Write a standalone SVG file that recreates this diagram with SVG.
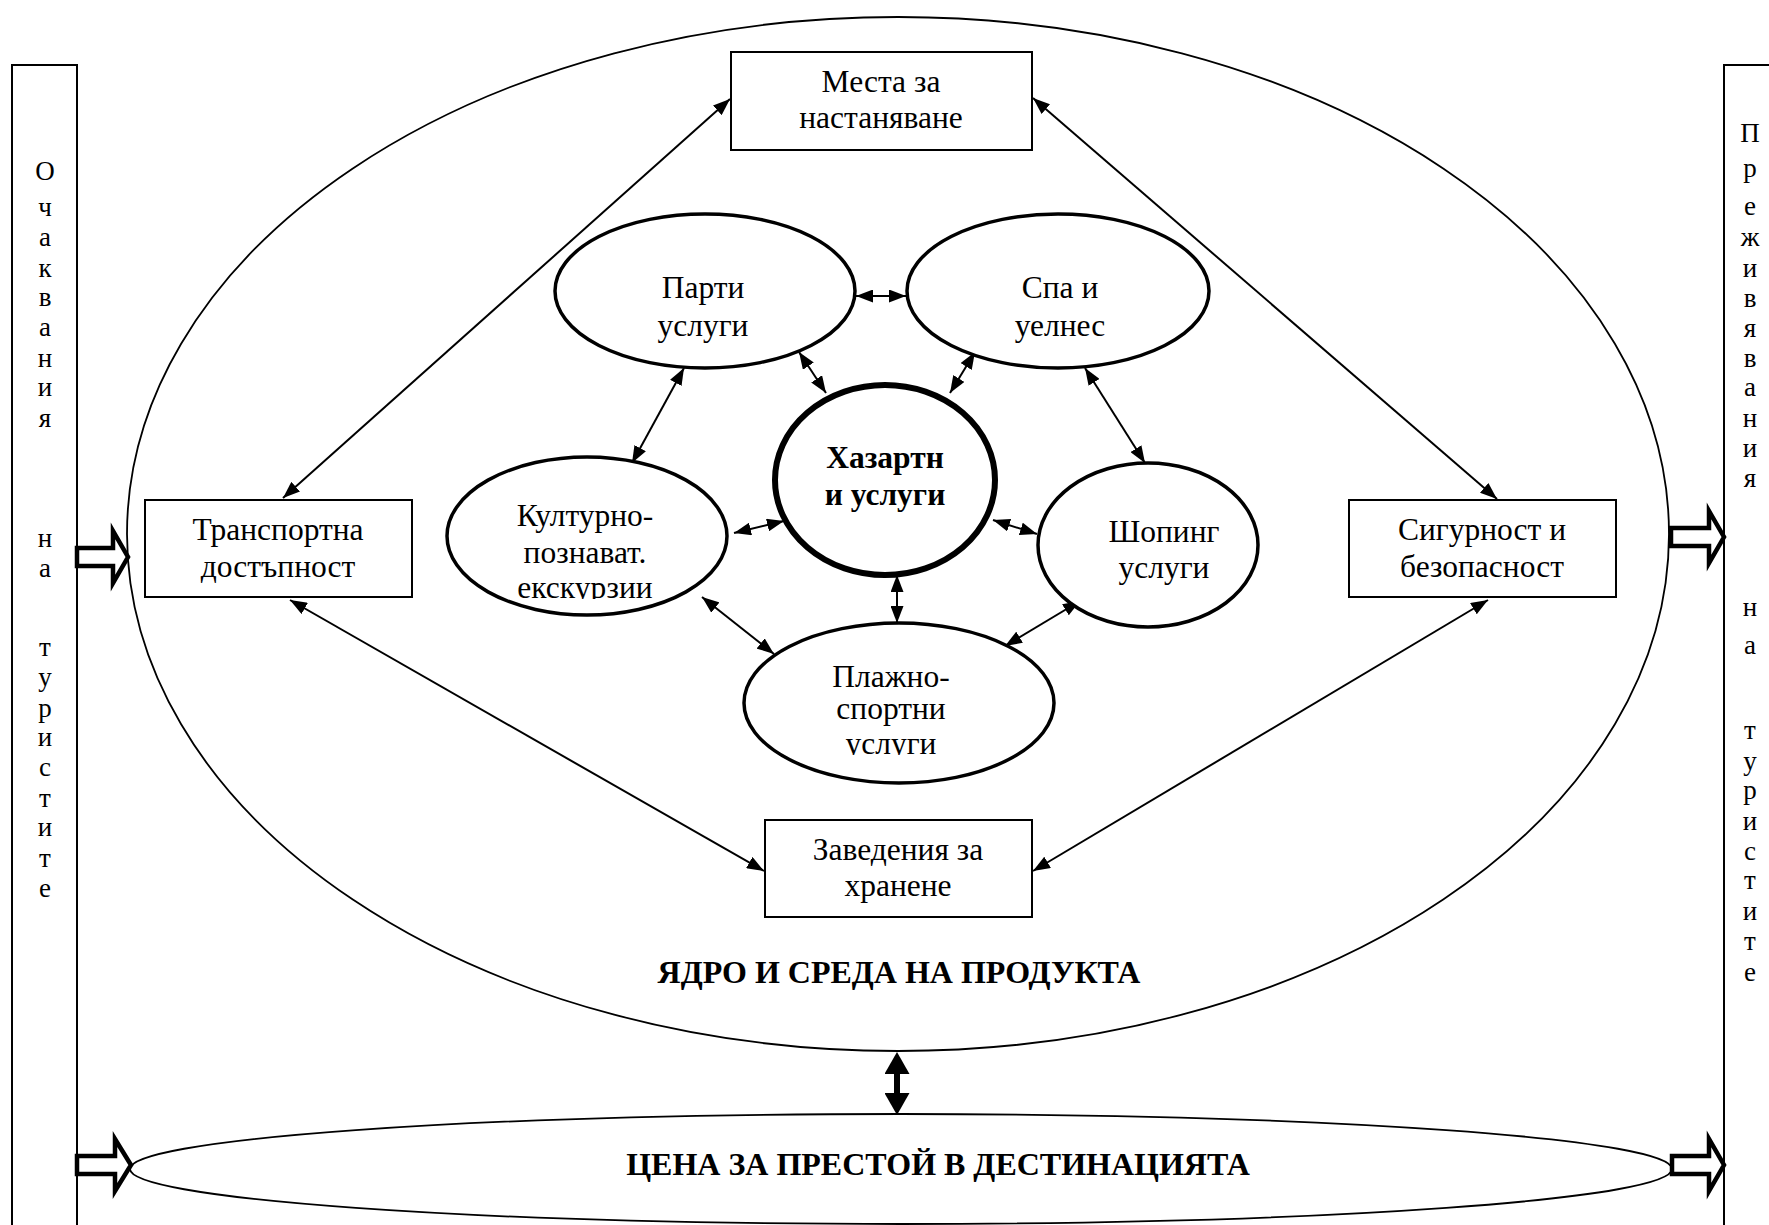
<svg xmlns="http://www.w3.org/2000/svg" width="1769" height="1225" viewBox="0 0 1769 1225">
<defs>
<marker id="ah" viewBox="0 0 17 13" refX="17" refY="6.5" markerWidth="17" markerHeight="13" markerUnits="userSpaceOnUse" orient="auto-start-reverse"><path d="M0,0 L17,6.5 L0,13 z" fill="#000"/></marker>
<marker id="ahb" viewBox="0 0 22 25" refX="9" refY="12.5" markerWidth="22" markerHeight="25" markerUnits="userSpaceOnUse" orient="auto-start-reverse"><path d="M0,0 L22,12.5 L0,25 z" fill="#000"/></marker>
<clipPath id="clipK"><rect x="440" y="440" width="300" height="159"/></clipPath>
<clipPath id="clipP"><rect x="740" y="620" width="320" height="135"/></clipPath>
</defs>
<style>
.t{font-family:"Liberation Serif","Times New Roman",serif;font-size:31.5px;fill:#000;text-anchor:middle}
.b{font-weight:bold}
.h{font-size:32px}
.v{font-family:"Liberation Serif","Times New Roman",serif;font-size:27px;fill:#000;text-anchor:middle}
.box{fill:#fff;stroke:#000;stroke-width:2}
.ell{fill:#fff;stroke:#000;stroke-width:3.5}
.big{fill:none;stroke:#000;stroke-width:1.8}
.bar{fill:none;stroke:#000;stroke-width:2}
.c{stroke:#000;stroke-width:2;fill:none;marker-start:url(#ah);marker-end:url(#ah)}
.cb{stroke:#000;stroke-width:6;fill:none;marker-start:url(#ahb);marker-end:url(#ahb)}
.blk{fill:#fff;stroke:#000;stroke-width:4.5;stroke-linejoin:miter}
</style>
<rect width="1769" height="1225" fill="#fff"/>

<g id="left-bar">
<rect class="bar" x="12" y="65" width="65" height="1180"/>
<text class="v">
<tspan x="45" y="180">О</tspan><tspan x="45" y="216">ч</tspan><tspan x="45" y="246">а</tspan><tspan x="45" y="277">к</tspan><tspan x="45" y="306">в</tspan><tspan x="45" y="336">а</tspan><tspan x="45" y="367">н</tspan><tspan x="45" y="396">и</tspan><tspan x="45" y="427">я</tspan><tspan x="45" y="547">н</tspan><tspan x="45" y="577">а</tspan><tspan x="45" y="656">т</tspan><tspan x="45" y="686">у</tspan><tspan x="45" y="717">р</tspan><tspan x="45" y="746">и</tspan><tspan x="45" y="776">с</tspan><tspan x="45" y="807">т</tspan><tspan x="45" y="836">и</tspan><tspan x="45" y="867">т</tspan><tspan x="45" y="897">е</tspan>
</text>
</g>

<g id="right-bar">
<rect class="bar" x="1724" y="65" width="80" height="1180"/>
<text class="v">
<tspan x="1750" y="142">П</tspan><tspan x="1750" y="177">р</tspan><tspan x="1750" y="215">е</tspan><tspan x="1750" y="246">ж</tspan><tspan x="1750" y="277">и</tspan><tspan x="1750" y="307">в</tspan><tspan x="1750" y="337">я</tspan><tspan x="1750" y="367">в</tspan><tspan x="1750" y="396">а</tspan><tspan x="1750" y="427">н</tspan><tspan x="1750" y="457">и</tspan><tspan x="1750" y="487">я</tspan><tspan x="1750" y="616">н</tspan><tspan x="1750" y="654">а</tspan><tspan x="1750" y="739">т</tspan><tspan x="1750" y="770">у</tspan><tspan x="1750" y="799">р</tspan><tspan x="1750" y="830">и</tspan><tspan x="1750" y="860">с</tspan><tspan x="1750" y="889">т</tspan><tspan x="1750" y="920">и</tspan><tspan x="1750" y="950">т</tspan><tspan x="1750" y="981">е</tspan>
</text>
</g>

<g id="core">
<ellipse class="big" cx="898" cy="534" rx="771" ry="517"/>
<text class="t b h" x="899" y="983">ЯДРО И СРЕДА НА ПРОДУКТА</text>
</g>

<g id="price">
<ellipse class="big" cx="901" cy="1169" rx="771" ry="55"/>
<text class="t b h" x="938" y="1175">ЦЕНА ЗА ПРЕСТОЙ В ДЕСТИНАЦИЯТА</text>
</g>

<g id="connectors">
<path class="blk" d="M77,548 H113 V531 L128,557 L113,583 V566 H77 Z"/>
<path class="blk" d="M77,1156 H115 V1139 L131,1165 L115,1191 V1174 H77 Z"/>
<path class="blk" d="M1671,528 H1709 V511 L1724,537 L1709,563 V546 H1671 Z"/>
<path class="blk" d="M1672,1156 H1709 V1139 L1724,1165 L1709,1191 V1174 H1672 Z"/>
<line class="cb" x1="897" y1="1065" x2="897" y2="1102"/>
<line class="c" x1="730" y1="99" x2="283" y2="498"/>
<line class="c" x1="1033" y1="98" x2="1497" y2="499"/>
<line class="c" x1="290" y1="600" x2="764" y2="871"/>
<line class="c" x1="1488" y1="600" x2="1033" y2="871"/>
<line class="c" x1="856" y1="296" x2="906" y2="296"/>
<line class="c" x1="799" y1="352" x2="826" y2="393"/>
<line class="c" x1="975" y1="352" x2="950" y2="393"/>
<line class="c" x1="684" y1="368" x2="632" y2="463"/>
<line class="c" x1="1085" y1="368" x2="1145" y2="463"/>
<line class="c" x1="734" y1="533" x2="784" y2="521"/>
<line class="c" x1="993" y1="520" x2="1037" y2="534"/>
<line class="c" x1="897" y1="575" x2="897" y2="623"/>
<line class="c" x1="702" y1="597" x2="774" y2="654"/>
<line class="c" x1="1080" y1="601" x2="1005" y2="646"/>
</g>

<g id="n-mesta">
<rect class="box" x="731" y="52" width="301" height="98"/>
<text class="t"><tspan x="881" y="92">Места за</tspan><tspan x="881" y="128">настаняване</tspan></text>
</g>
<g id="n-transport">
<rect class="box" x="145" y="500" width="267" height="97"/>
<text class="t"><tspan x="278" y="540">Транспортна</tspan><tspan x="278" y="577">достъпност</tspan></text>
</g>
<g id="n-sigurnost">
<rect class="box" x="1349" y="500" width="267" height="97"/>
<text class="t"><tspan x="1482" y="540">Сигурност и</tspan><tspan x="1482" y="577">безопасност</tspan></text>
</g>
<g id="n-zavedenia">
<rect class="box" x="765" y="820" width="267" height="97"/>
<text class="t"><tspan x="898" y="860">Заведения за</tspan><tspan x="898" y="896">хранене</tspan></text>
</g>
<g id="n-parti">
<ellipse class="ell" cx="705" cy="291" rx="150" ry="77"/>
<text class="t"><tspan x="703" y="298">Парти</tspan><tspan x="703" y="336">услуги</tspan></text>
</g>
<g id="n-spa">
<ellipse class="ell" cx="1058" cy="291" rx="151" ry="77"/>
<text class="t"><tspan x="1060" y="298">Спа и</tspan><tspan x="1060" y="336">уелнес</tspan></text>
</g>
<g id="n-hazart">
<ellipse cx="885" cy="480" rx="110" ry="95" fill="#fff" stroke="#000" stroke-width="6"/>
<text class="t b"><tspan x="885" y="468">Хазартн</tspan><tspan x="885" y="505">и услуги</tspan></text>
</g>
<g id="n-kultura">
<ellipse class="ell" cx="587" cy="536" rx="140" ry="79"/>
<text class="t" clip-path="url(#clipK)"><tspan x="585" y="526">Културно-</tspan><tspan x="585" y="563">познават.</tspan><tspan x="585" y="598">екскурзии</tspan></text>
</g>
<g id="n-shoping">
<ellipse class="ell" cx="1148" cy="545" rx="110" ry="82"/>
<text class="t"><tspan x="1164" y="542">Шопинг</tspan><tspan x="1164" y="578">услуги</tspan></text>
</g>
<g id="n-plaj">
<ellipse class="ell" cx="899" cy="703" rx="155" ry="80"/>
<text class="t" clip-path="url(#clipP)"><tspan x="891" y="687">Плажно-</tspan><tspan x="891" y="719">спортни</tspan><tspan x="891" y="754">услуги</tspan></text>
</g>
</svg>
